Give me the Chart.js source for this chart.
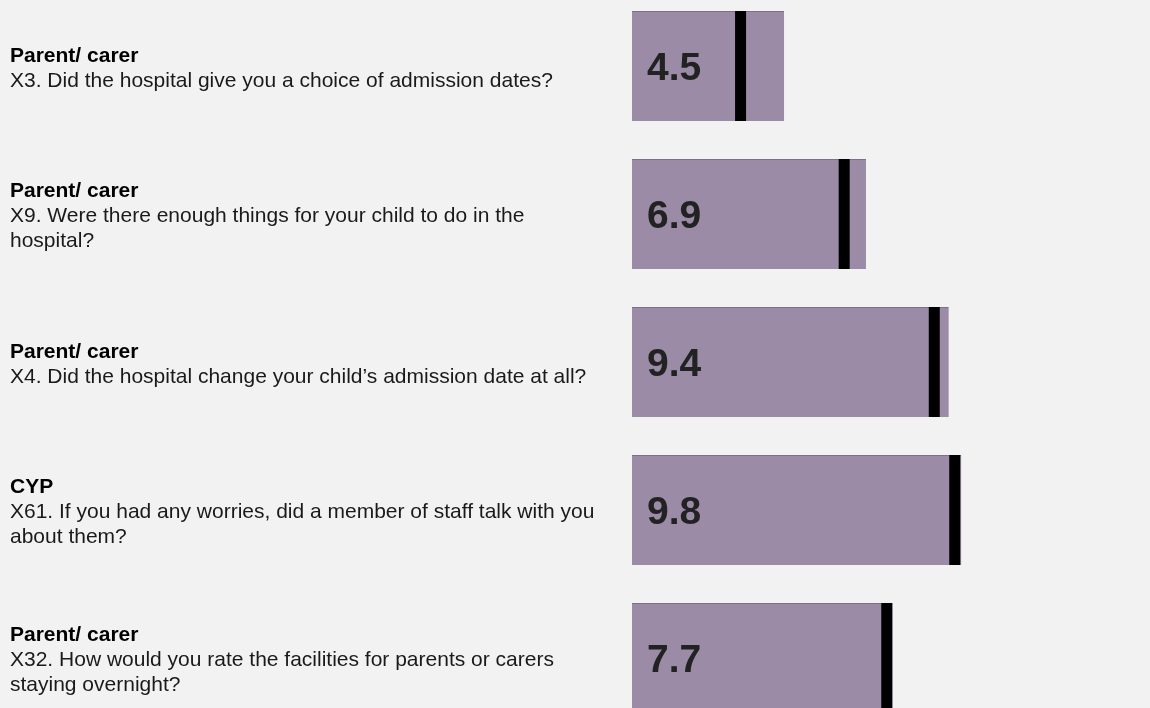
<!DOCTYPE html>
<html>
<head>
<meta charset="utf-8">
<script src="https://cdn.jsdelivr.net/npm/chart.js@4.4.1/dist/chart.umd.min.js"></script>
<style>
  html, body { margin: 0; padding: 0; background: #f2f2f2; overflow: hidden; }
  #wrap { position: absolute; left: 0; top: -8px; width: 1150px; height: 740px; }
</style>
</head>
<body>
<div id="wrap"><canvas id="chart" width="1150" height="740"></canvas></div>
<script>
const respondents = ["Parent/ carer", "Parent/ carer", "Parent/ carer", "CYP", "Parent/ carer"];
const questions = [
  ["X3. Did the hospital give you a choice of admission dates?"],
  ["X9. Were there enough things for your child to do in the", "hospital?"],
  ["X4. Did the hospital change your child\u2019s admission date at all?"],
  ["X61. If you had any worries, did a member of staff talk with you", "about them?"],
  ["X32. How would you rate the facilities for parents or carers", "staying overnight?"],
];
const scores = [4.5, 6.9, 9.4, 9.8, 7.7];
const rangeEnds = [4.61, 7.09, 9.6, 9.98, 7.9];
const markers = [3.29, 6.43, 9.16, 9.78, 7.72];

const FONT = "'Liberation Sans', Arial, sans-serif";

const labelPlugin = {
  id: "labels",
  afterDatasetsDraw(chart) {
    const { ctx, scales } = chart;
    const x0 = scales.x.getPixelForValue(0);
    ctx.save();
    ctx.textAlign = "left";
    ctx.textBaseline = "alphabetic";

    scores.forEach((score, index) => {
      const centerY = scales.y.getPixelForValue(index);

      // value inside the bar
      ctx.font = `bold 39px ${FONT}`;
      ctx.fillStyle = "#222222";
      ctx.fillText(score.toFixed(1), x0 + 15, centerY + 14);

      // question text on the left
      const lines = [respondents[index], ...questions[index]];
      const lineHeight = 25;
      const firstBaseline = centerY + 8 - ((lines.length - 1) / 2) * lineHeight;
      lines.forEach((line, lineIndex) => {
        ctx.font = lineIndex === 0 ? `bold 21px ${FONT}` : `21px ${FONT}`;
        ctx.fillStyle = lineIndex === 0 ? "#000000" : "#1a1a1a";
        ctx.fillText(line, 10, firstBaseline + lineIndex * lineHeight);
      });
    });

    ctx.restore();
  },
};

new Chart(document.getElementById("chart"), {
  type: "bar",
  data: {
    labels: respondents.map((r, i) => `${i}`),
    datasets: [
      {
        type: "line",
        indexAxis: "y",
        data: markers,
        showLine: false,
        pointStyle: "line",
        rotation: 90,
        pointRadius: 55,
        pointHoverRadius: 55,
        pointBorderWidth: 11,
        pointBorderColor: "#000000",
        pointBackgroundColor: "#000000",
        order: 0,
      },
      {
        data: rangeEnds,
        backgroundColor: "#9b8ba6",
        borderColor: "#7f7089",
        borderWidth: { top: 1, right: 0, bottom: 0, left: 0 },
        borderSkipped: false,
        categoryPercentage: 1,
        barPercentage: 110 / 148,
        order: 1,
      },
    ],
  },
  options: {
    indexAxis: "y",
    responsive: false,
    animation: false,
    events: [],
    layout: {
      autoPadding: false,
      padding: { left: 632, right: 188, top: 0, bottom: 0 },
    },
    plugins: {
      legend: { display: false },
      tooltip: { enabled: false },
    },
    scales: {
      x: {
        type: "linear",
        min: 0,
        max: 10,
        display: false,
      },
      y: {
        display: false,
      },
    },
  },
  plugins: [labelPlugin],
});
</script>
</body>
</html>
